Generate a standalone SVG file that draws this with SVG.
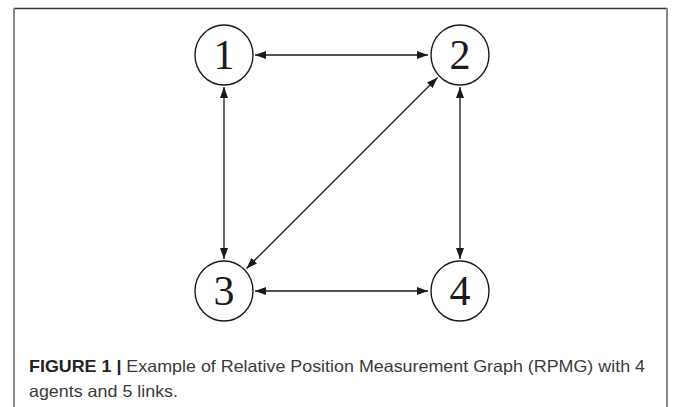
<svg xmlns="http://www.w3.org/2000/svg" width="674" height="407" viewBox="0 0 674 407">
<style>
.node ellipse{fill:#fff;stroke:#1a1a1a;stroke-width:1.4}
.node text{font-family:"Liberation Serif","DejaVu Serif",serif;font-size:42px;fill:#1a1a1a;text-anchor:middle}
.edge{stroke:#1a1a1a;stroke-width:1.3;fill:none;marker-start:url(#ah);marker-end:url(#ah)}
.cap{font-family:"Liberation Sans",Arial,sans-serif;font-size:16.5px;fill:#3a3a3a}
</style>
<defs>
<marker id="ah" viewBox="0 0 11 8" refX="11" refY="4" markerWidth="11" markerHeight="8" markerUnits="userSpaceOnUse" orient="auto-start-reverse">
<path d="M0,0 L11,4 L0,8 z" fill="#1a1a1a"/>
</marker>
</defs>
<rect width="674" height="407" fill="#fff"/>
<g id="frame">
<line x1="14" y1="8.5" x2="667" y2="8.5" stroke="#333" stroke-width="1.5"/>
<line x1="14" y1="8" x2="14" y2="407" stroke="#888" stroke-width="2"/>
<line x1="667" y1="8" x2="667" y2="407" stroke="#888" stroke-width="2"/>
</g>
<g id="connectors">
<line class="edge" x1="255" y1="55" x2="428" y2="55"/>
<line class="edge" x1="255" y1="291" x2="428" y2="291"/>
<line class="edge" x1="224" y1="87" x2="224" y2="259"/>
<line class="edge" x1="460" y1="87" x2="460" y2="259"/>
<line class="edge" x1="246.5" y1="268.5" x2="437.5" y2="77.5"/>
</g>
<g id="node1" class="node"><ellipse cx="224" cy="55" rx="29" ry="30"/><text x="224" y="69">1</text></g>
<g id="node2" class="node"><ellipse cx="460" cy="55" rx="29" ry="30"/><text x="460" y="69">2</text></g>
<g id="node3" class="node"><ellipse cx="224" cy="291" rx="29" ry="30"/><text x="224" y="305">3</text></g>
<g id="node4" class="node"><ellipse cx="460" cy="291" rx="29" ry="30"/><text x="460" y="305">4</text></g>
<g id="caption" class="cap">
<text x="29" y="372" textLength="616" lengthAdjust="spacingAndGlyphs"><tspan font-weight="bold" fill="#222">FIGURE 1 | </tspan>Example of Relative Position Measurement Graph (RPMG) with 4</text>
<text x="29" y="397" textLength="149" lengthAdjust="spacingAndGlyphs">agents and 5 links.</text>
</g>
</svg>
